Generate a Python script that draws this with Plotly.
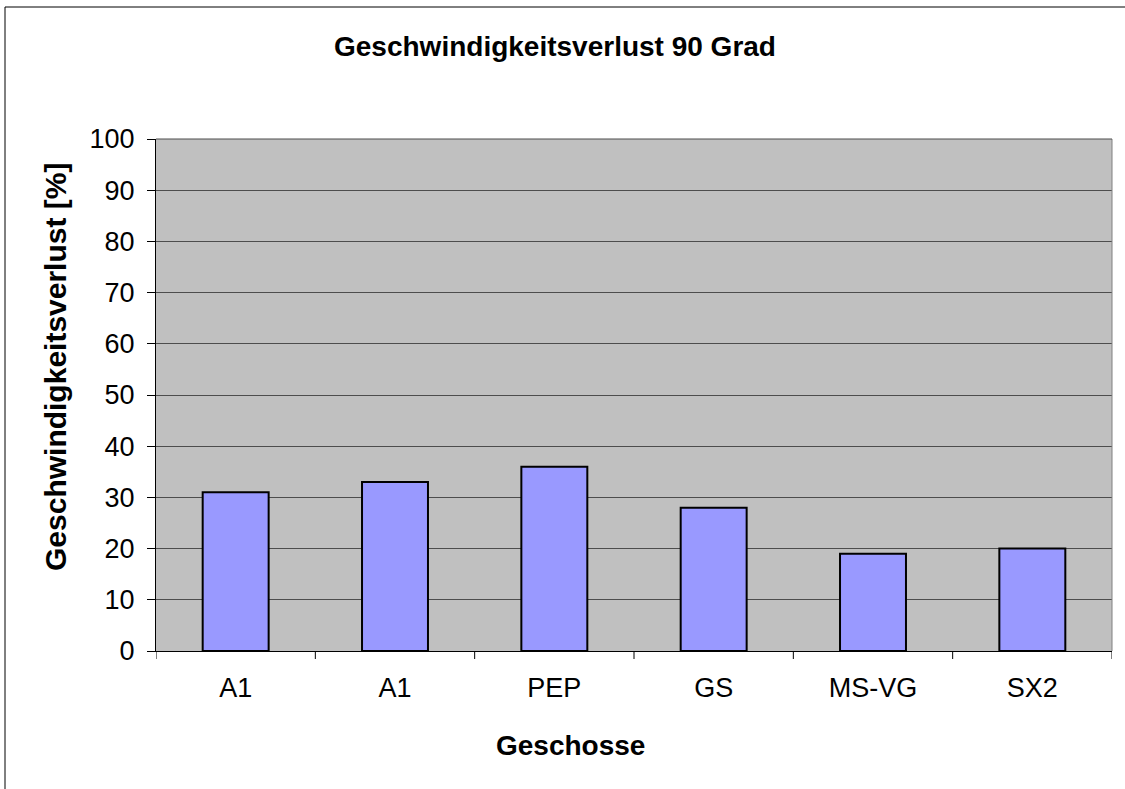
import plotly.graph_objects as go

categories = ["A1", "A1", "PEP", "GS", "MS-VG", "SX2"]
values = [31, 33, 36, 28, 19, 20]
y_ticks = [0, 10, 20, 30, 40, 50, 60, 70, 80, 90, 100]

title_text = "Geschwindigkeitsverlust 90 Grad"
x_title = "Geschosse"
y_title = "Geschwindigkeitsverlust [%]"

W, H = 1125, 789
L, R, T, B = 156, 13, 139, 138
pw, ph = W - L - R, H - T - B

def px_x(p):
    return (p - L) / pw

def px_y(p):
    return (H - B - p) / ph

FONT = "Liberation Sans, Arial, sans-serif"

fig = go.Figure()
fig.add_trace(go.Bar(
    x=list(range(len(categories))),
    y=values,
    marker=dict(color="#9999FF", line=dict(color="black", width=2)),
    hoverinfo="skip",
))

fig.update_layout(
    width=W, height=H,
    margin=dict(l=L, r=R, t=T, b=B, pad=0),
    paper_bgcolor="white",
    plot_bgcolor="#C0C0C0",
    bargap=0.586,
    showlegend=False,
    font=dict(family=FONT, size=27, color="black"),
    title=dict(text="<b>" + title_text + "</b>", x=555 / W, xanchor="center",
               y=1 - 46 / H, yanchor="middle", yref="container",
               font=dict(family=FONT, size=28, color="black")),
)

fig.update_xaxes(
    type="linear",
    range=[-0.5, len(categories) - 0.5],
    tickmode="array",
    tickvals=list(range(len(categories))),
    ticktext=categories,
    showgrid=False,
    showline=True, linecolor="black", linewidth=1,
    ticks="", zeroline=False,
    ticklabelstandoff=13,
    tickfont=dict(family=FONT, size=27),
)

fig.update_yaxes(
    range=[0, 100],
    tickmode="array", tickvals=y_ticks,
    showgrid=True, gridcolor="#4d4d4d", gridwidth=1,
    showline=True, linecolor="black", linewidth=1,
    ticks="outside", ticklen=8, tickcolor="black",
    zeroline=False,
    ticklabelstandoff=7,
    tickfont=dict(family=FONT, size=27),
)

# x-axis ticks at category boundaries
for i in range(len(categories) + 1):
    fig.add_shape(type="line", xref="x", yref="paper",
                  x0=i - 0.5, x1=i - 0.5, y0=0, y1=-8 / ph,
                  line=dict(color="black", width=1))

# plot area right/top border
fig.add_shape(type="line", xref="paper", yref="paper", x0=1, x1=1, y0=0, y1=1,
              line=dict(color="#808080", width=1))
fig.add_shape(type="line", xref="paper", yref="paper", x0=0, x1=1, y0=1, y1=1,
              line=dict(color="#4d4d4d", width=1))

# outer chart frame
fig.add_shape(type="rect", xref="paper", yref="paper",
              x0=px_x(5), x1=px_x(1135), y0=px_y(800), y1=px_y(7),
              line=dict(color="black", width=1), fillcolor="rgba(0,0,0,0)")

fig.add_annotation(text="<b>" + x_title + "</b>", xref="paper", yref="paper",
                   x=px_x(570), y=px_y(745), showarrow=False,
                   xanchor="center", yanchor="middle",
                   font=dict(family=FONT, size=28))
fig.add_annotation(text="<b>" + y_title + "</b>", xref="paper", yref="paper",
                   x=px_x(55), y=px_y(367), showarrow=False, textangle=-90,
                   xanchor="center", yanchor="middle",
                   font=dict(family=FONT, size=30))

fig.write_html("out.html",
               config={"displayModeBar": False},
               post_script="document.body.style.margin='0';document.body.style.overflow='hidden';")
